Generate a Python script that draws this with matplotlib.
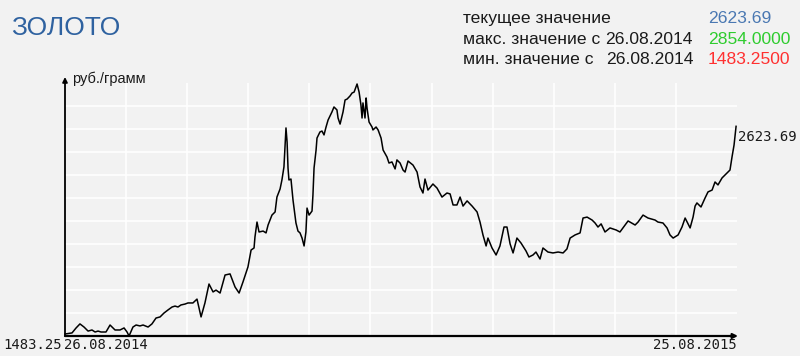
import numpy as np
import matplotlib
matplotlib.use("Agg")
import matplotlib.pyplot as plt

# gold price, rub per gram, days counted from 26.08.2014
days = [0, 3.8, 6.0, 8.1, 10.3, 12.5, 14.6, 16.3, 17.9, 19.5, 22.2, 24.4, 27.1, 29.8,
        32.0, 33.6, 34.7, 36.8, 38.5, 40.6, 42.3, 45.0, 47.1, 49.3, 51.5, 53.6, 55.8,
        58.0, 59.6, 61.2, 62.8, 65.0, 66.6, 69.3, 71.5, 73.7, 75.8, 78.0, 80.2, 81.8,
        84.0, 86.7, 89.4, 92.1, 94.3, 96.4, 99.1, 100.8, 102.4, 102.9, 104.0, 105.1,
        107.3, 108.9, 110.0, 112.1, 113.8, 114.8, 116.5, 117.5, 118.6, 119.7, 120.3,
        120.8, 121.3, 122.4, 123.5, 125.1, 126.2, 127.3, 128.4, 129.5, 130.5, 131.1,
        132.2, 133.8, 134.3, 134.9, 136.0, 136.5, 138.1, 139.2, 140.3, 141.4, 142.5,
        144.6, 145.7, 147.3, 147.9, 149.0, 150.6, 151.7, 152.8, 154.4, 155.5, 156.6,
        158.2, 159.3, 160.3, 160.9, 161.4, 162.5, 163.1, 163.6, 164.7, 166.3, 166.8,
        168.5, 169.6, 171.2, 172.3, 174.4, 175.5, 177.1, 178.8, 179.8, 181.5, 183.1,
        184.2, 185.8, 188.5, 190.7, 192.3, 193.9, 195.0, 196.6, 199.3, 201.5, 204.2,
        206.9, 208.6, 210.2, 212.3, 214.0, 215.6, 217.8, 220.5, 223.2, 224.8, 226.4,
        228.1, 229.1, 231.3, 233.5, 235.6, 237.8, 239.4, 241.1, 242.7, 244.8, 247.0,
        249.7, 251.3, 253.5, 255.1, 257.3, 258.9, 261.6, 264.3, 267.1, 269.8, 271.9,
        273.6, 276.3, 279.0, 280.6, 282.8, 285.5, 287.1, 288.7, 290.4, 292.5, 295.2,
        298.5, 300.6, 303.4, 305.0, 308.8, 310.4, 313.1, 315.8, 319.6, 321.2, 323.9,
        326.1, 327.7, 329.4, 332.1, 334.2, 335.9, 338.6, 340.2, 341.3, 342.3, 344.5,
        346.7, 348.3, 350.5, 352.1, 353.7, 355.9, 358.6, 360.2, 361.3, 362.4, 363.5]

price = [1494, 1500, 1527, 1549, 1532, 1510, 1516, 1505, 1510, 1505, 1505, 1543, 1516,
         1516, 1527, 1505, 1483.25, 1532, 1543, 1538, 1543, 1532, 1549, 1581, 1587, 1608,
         1625, 1641, 1646, 1641, 1652, 1657, 1663, 1663, 1684, 1587, 1663, 1766, 1723,
         1733, 1717, 1815, 1821, 1750, 1717, 1777, 1859, 1951, 1962, 2022, 2103, 2049,
         2054, 2044, 2087, 2141, 2158, 2239, 2283, 2332, 2403, 2615, 2538, 2397, 2332,
         2337, 2223, 2098, 2054, 2044, 2016, 1973, 2049, 2179, 2141, 2163, 2250, 2397,
         2495, 2560, 2593, 2598, 2577, 2620, 2658, 2702, 2729, 2713, 2669, 2636, 2702,
         2767, 2772, 2789, 2805, 2810, 2854, 2810, 2740, 2669, 2751, 2669, 2778, 2723,
         2647, 2620, 2604, 2620, 2604, 2560, 2495, 2457, 2424, 2430, 2392, 2441, 2424,
         2386, 2375, 2435, 2413, 2375, 2294, 2261, 2337, 2277, 2310, 2288, 2239, 2261,
         2256, 2196, 2196, 2239, 2190, 2218, 2190, 2158, 2103, 2033, 1973, 2016, 1962,
         1924, 1973, 2076, 2076, 1984, 1935, 2016, 1989, 1946, 1913, 1924, 1940, 1902,
         1962, 1940, 1935, 1940, 1935, 1957, 2016, 2033, 2044, 2125, 2130, 2114, 2098,
         2076, 2093, 2049, 2071, 2060, 2049, 2087, 2109, 2087, 2103, 2141, 2125, 2114,
         2103, 2098, 2071, 2033, 2016, 2033, 2076, 2125, 2071, 2130, 2190, 2207, 2185,
         2234, 2267, 2277, 2321, 2305, 2343, 2370, 2386, 2457, 2522, 2623.69]

title = "ЗОЛОТО"
start_date = "26.08.2014"
end_date = "25.08.2015"
unit = "руб./грамм"
current_val = "2623.69"
max_val = "2854.0000"
min_val = "1483.2500"
y_min = 1483.25
y_top = 2859.4
n_div = 11

bg = "#f2f2f2"
W, H = 800, 356
fig = plt.figure(figsize=(W / 100, H / 100), dpi=100, facecolor=bg)


def fx(px):
    return px / W


def fy(py):
    return 1 - py / H


ax = fig.add_axes([fx(65), fy(336), 672 / W, 253 / H])
ax.set_facecolor(bg)
ax.set_xlim(0, 364)
ax.set_ylim(y_min, y_top)

xt = np.linspace(0, 364, n_div + 1)[1:-1]
yt = np.linspace(y_min, y_top, n_div + 1)[1:-1]
ax.set_xticks(xt)
ax.set_yticks(yt)
ax.tick_params(length=0, labelbottom=False, labelleft=False)
ax.grid(True, color="white", lw=1.2)
ax.set_axisbelow(True)
for s in ax.spines.values():
    s.set_visible(False)

ax.plot(days, price, color="black", lw=1.1, clip_on=False, zorder=3)

# axis arrows
ax.annotate("", xy=(0, 1 + 6 / 253), xytext=(0, 0), xycoords="axes fraction",
            arrowprops=dict(arrowstyle="-|>", color="black", lw=1.3,
                            mutation_scale=7, shrinkA=0, shrinkB=0))
ax.annotate("", xy=(1 + 1 / 672, 0), xytext=(0, 0), xycoords="axes fraction",
            arrowprops=dict(arrowstyle="-|>", color="black", lw=1.6,
                            mutation_scale=7, shrinkA=0, shrinkB=0))

sans = "Liberation Sans"
mono = "DejaVu Sans Mono"
ink = "#1a1a1a"

fig.text(fx(11), fy(35), title, color="#2f62a0", fontsize=19, family=sans,
         va="baseline")

fs = 12.6
fig.text(fx(463), fy(23), "текущее значение", fontsize=fs, family=sans,
         va="baseline", color=ink)
fig.text(fx(463), fy(44), "макс. значение с", fontsize=fs, family=sans,
         va="baseline", color=ink)
fig.text(fx(463), fy(64), "мин. значение с", fontsize=fs, family=sans,
         va="baseline", color=ink)
fig.text(fx(605), fy(44), start_date, fontsize=fs, family=sans, va="baseline",
         color=ink)
fig.text(fx(606), fy(64), start_date, fontsize=fs, family=sans, va="baseline",
         color=ink)
fig.text(fx(708), fy(23), current_val, fontsize=fs, family=sans, va="baseline",
         color="#4a78b2")
fig.text(fx(708), fy(44), max_val, fontsize=fs, family=sans, va="baseline",
         color="#2ecc2e")
fig.text(fx(708), fy(64), min_val, fontsize=fs, family=sans, va="baseline",
         color="#ff3030")

fig.text(fx(72), fy(83), unit, fontsize=10.5, family=sans, va="baseline",
         color=ink)
fig.text(fx(3), fy(349), f"{y_min:.2f}", fontsize=10, family=mono, va="baseline",
         color=ink)
fig.text(fx(64), fy(349), start_date, fontsize=10, family=mono, va="baseline",
         color=ink)
fig.text(fx(737), fy(349), end_date, fontsize=10, family=mono, va="baseline",
         ha="right", color=ink)
fig.text(fx(738), fy(141), current_val, fontsize=10, family=mono, va="baseline",
         color=ink)

fig.savefig("out.png", dpi=100, facecolor=bg)
